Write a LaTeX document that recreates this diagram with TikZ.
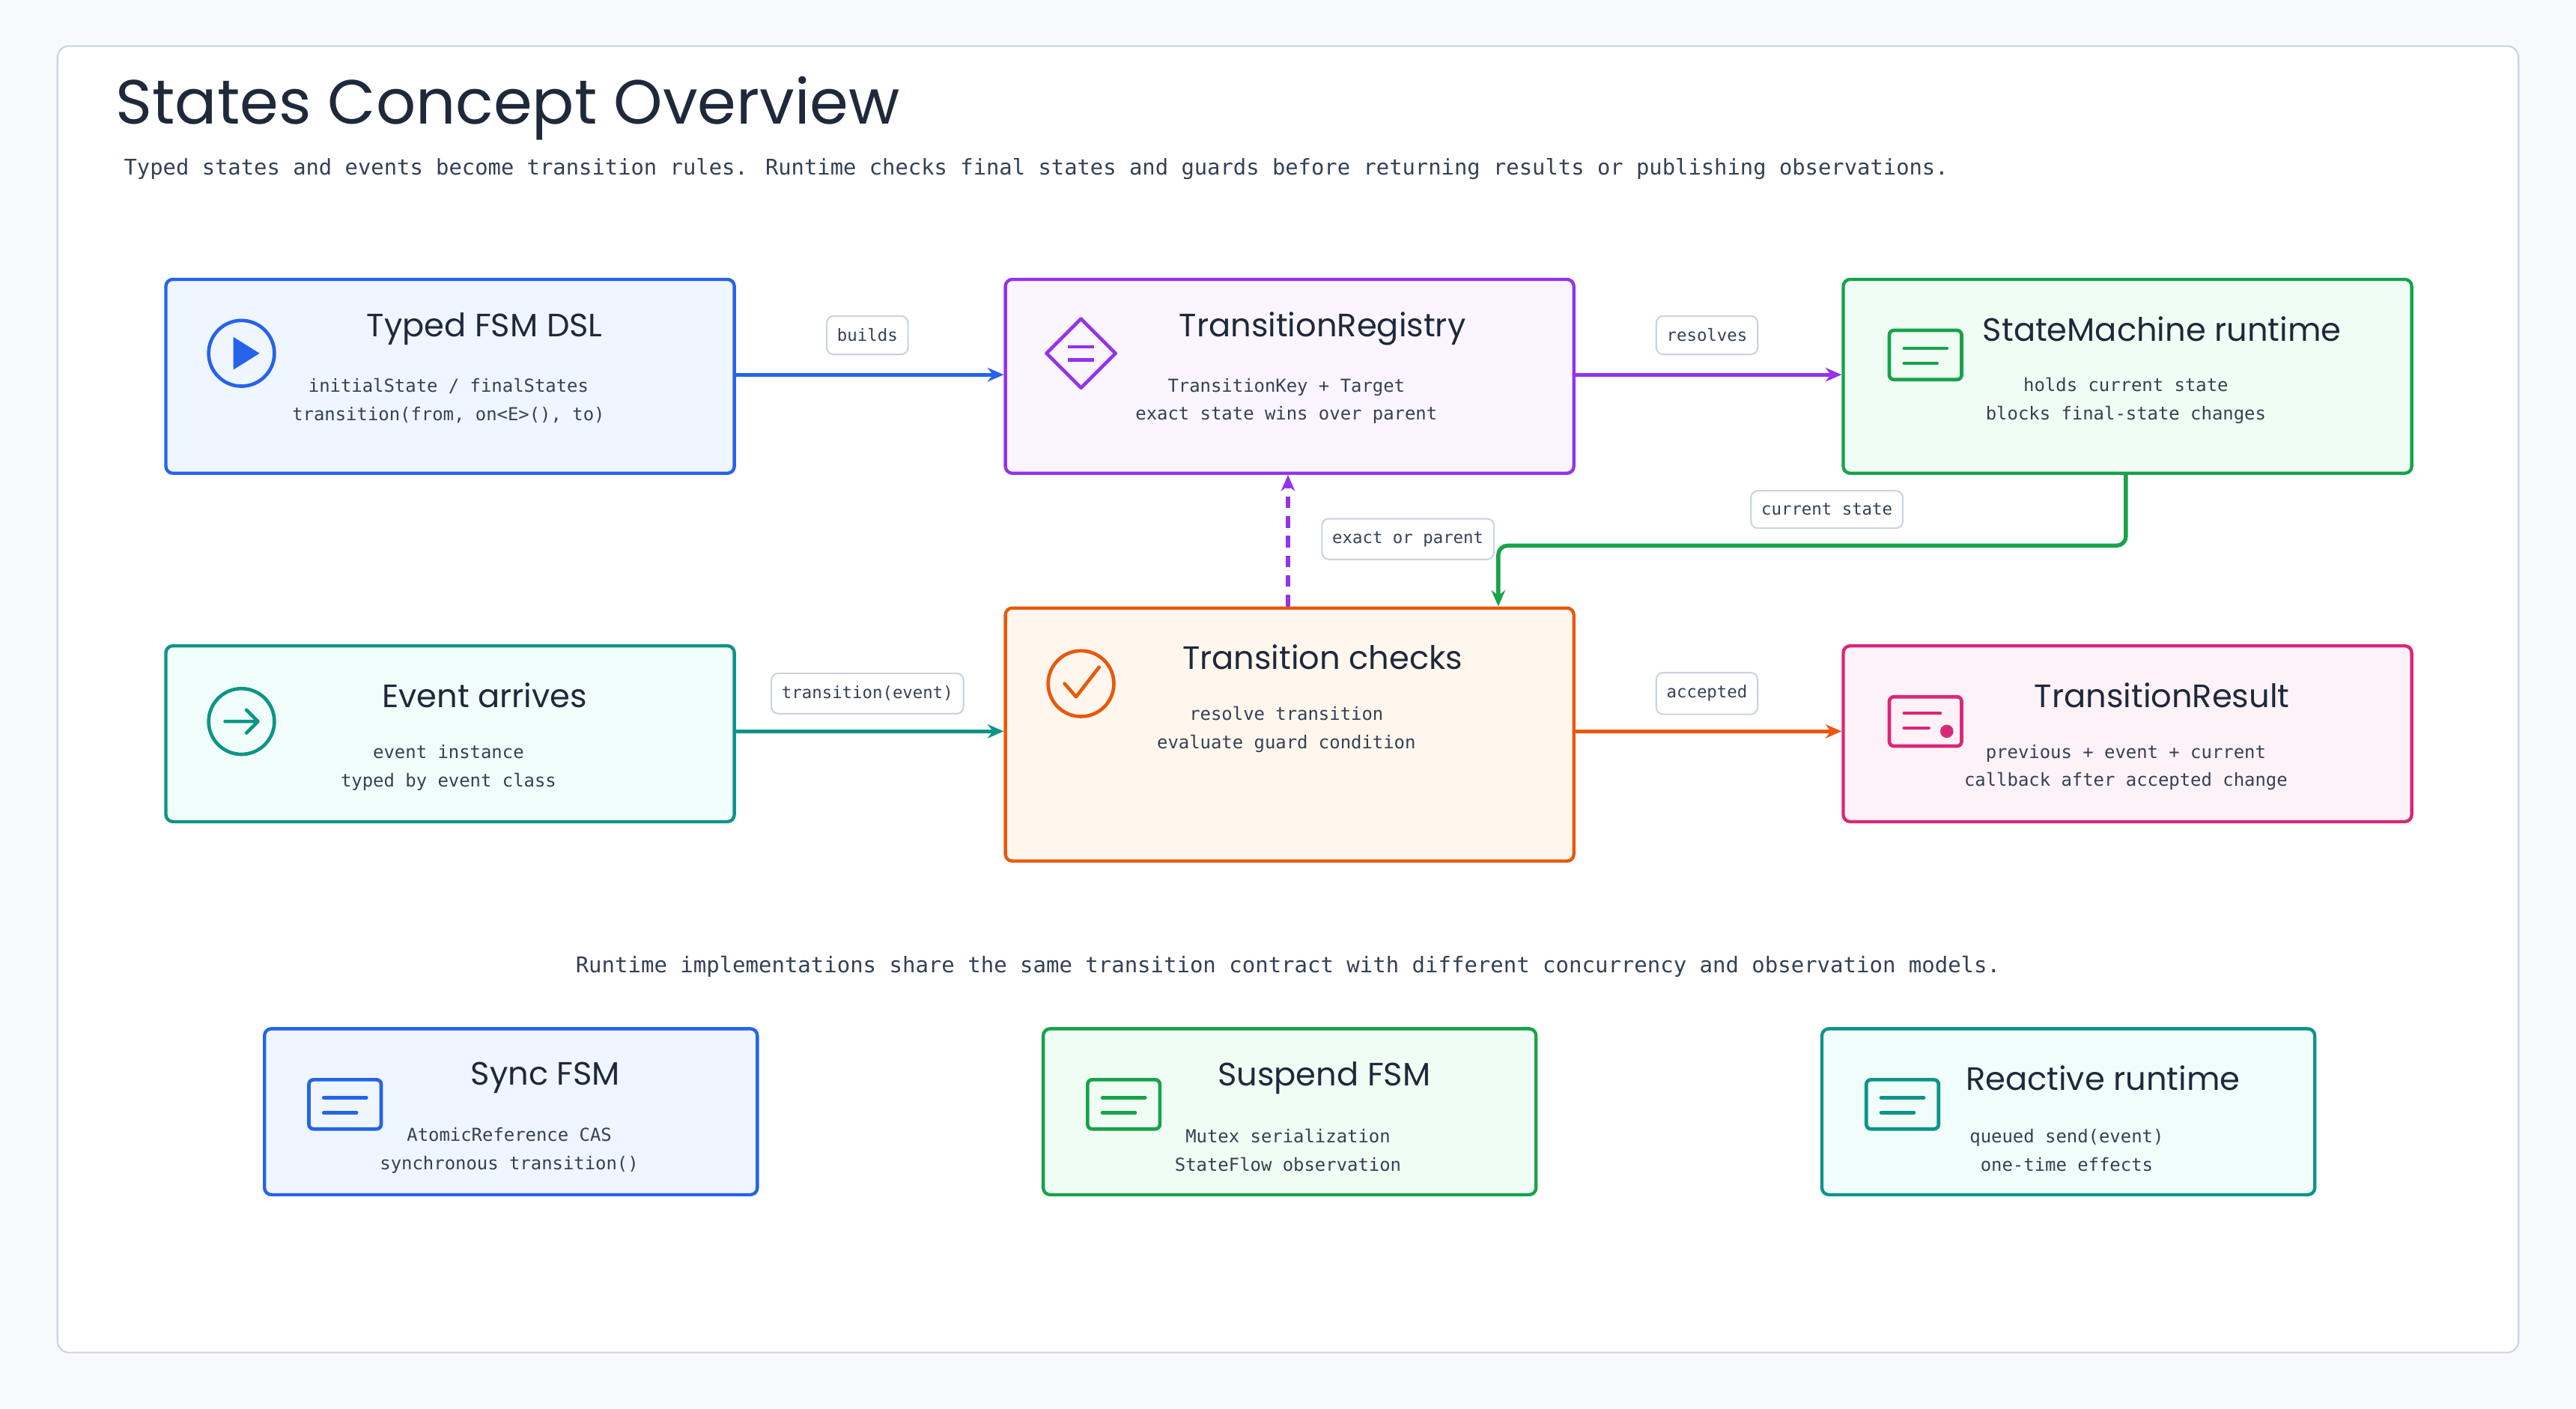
\documentclass[tikz,border=0pt]{standalone}
\usepackage{fontspec}
\setmainfont{Poppins}
\newfontfamily\monof{DejaVu Sans Mono}
\usetikzlibrary{arrows.meta,positioning}
\definecolor{cblue}{HTML}{2563EB}\definecolor{fblue}{HTML}{EFF6FF}
\definecolor{cpur}{HTML}{9333EA}\definecolor{fpur}{HTML}{FAF5FF}
\definecolor{cgrn}{HTML}{16A34A}\definecolor{fgrn}{HTML}{F0FDF4}
\definecolor{cteal}{HTML}{0D9488}\definecolor{fteal}{HTML}{F0FDFA}
\definecolor{corg}{HTML}{EA580C}\definecolor{forg}{HTML}{FFF7ED}
\definecolor{cpink}{HTML}{DB2777}\definecolor{fpink}{HTML}{FDF2F8}
\definecolor{tdark}{HTML}{1E293B}\definecolor{tmid}{HTML}{334155}
\definecolor{gbord}{HTML}{CBD5E1}\definecolor{bgc}{HTML}{F8F9FB}
\tikzset{
 box/.style={draw=#1,line width=2.8pt,rounded corners=6pt,anchor=north west,inner sep=0pt},
 ttl/.style={text=tdark,font=\fontsize{28}{32}\selectfont},
 ln/.style={text=tmid,font=\monof\fontsize{15.5}{24.5}\selectfont},
 lbl/.style={draw=gbord,fill=white,line width=1.4pt,rounded corners=6pt,text=tmid,font=\monof\fontsize{14.5}{18}\selectfont,inner xsep=9pt,inner ysep=11pt},
 edge/.style={line width=3.5pt,-{Stealth[length=14pt,width=12pt]}},
 ic/.style={line width=3pt}
}
\begin{document}
\begin{tikzpicture}[x=0.05cm,y=-0.05cm]
\fill[bgc] (0,0) rectangle (1568,857);
\useasboundingbox (0,0) rectangle (1568,857);
\draw[gbord,fill=white,line width=1.4pt,rounded corners=10pt] (35,28) rectangle (1533,823);
\node[anchor=west,text=tdark,font=\fontsize{54}{60}\selectfont] (title) at (68,66) {States Concept Overview};
\node[anchor=west,ln,font=\monof\fontsize{18.7}{22}\selectfont] (sub) at (73,103) {Typed states and events become transition rules. Runtime checks final states and guards before returning results or publishing observations.};
% boxes
\node[box=cblue,fill=fblue,minimum width=346*0.05cm,minimum height=118*0.05cm] (b1) at (100,169) {};
\node[box=cpur,fill=fpur,minimum width=346*0.05cm,minimum height=118*0.05cm] (b2) at (611,169) {};
\node[box=cgrn,fill=fgrn,minimum width=346*0.05cm,minimum height=118*0.05cm] (b3) at (1121,169) {};
\node[box=cteal,fill=fteal,minimum width=346*0.05cm,minimum height=107*0.05cm] (b4) at (100,392) {};
\node[box=corg,fill=forg,minimum width=346*0.05cm,minimum height=154*0.05cm] (b5) at (611,369) {};
\node[box=cpink,fill=fpink,minimum width=346*0.05cm,minimum height=107*0.05cm] (b6) at (1121,392) {};
\node[box=cblue,fill=fblue,minimum width=300*0.05cm,minimum height=101*0.05cm] (s1) at (160,625) {};
\node[box=cgrn,fill=fgrn,minimum width=300*0.05cm,minimum height=101*0.05cm] (s2) at (634,625) {};
\node[box=cteal,fill=fteal,minimum width=300*0.05cm,minimum height=101*0.05cm] (s3) at (1108,625) {};
% texts
\node[ttl] (t1) at (295,200) {Typed FSM DSL};
\node[ln,align=center] (l1) at (273,244) {initialState / finalStates\\transition(from, on<E>(), to)};
\node[ttl] (t2) at (805,200) {TransitionRegistry};
\node[ln,align=center] (l2) at (783,244) {TransitionKey + Target\\exact state wins over parent};
\node[ttl] (t3) at (1316,200) {StateMachine runtime};
\node[ln,align=center] (l3) at (1294,244) {holds current state\\blocks final-state changes};
\node[ttl] (t4) at (295,423) {Event arrives};
\node[ln,align=center] (l4) at (273,467) {event instance\\typed by event class};
\node[ttl] (t5) at (805,400) {Transition checks};
\node[ln,align=center] (l5) at (783,444) {resolve transition\\evaluate guard condition};
\node[ttl] (t6) at (1316,423) {TransitionResult};
\node[ln,align=center] (l6) at (1294,467) {previous + event + current\\callback after accepted change};
\node[ln,font=\monof\fontsize{18.8}{22}\selectfont] (cap) at (784,588) {Runtime implementations share the same transition contract with different concurrency and observation models.};
\node[ttl] (t7) at (332,656) {Sync FSM};
\node[ln,align=center] (l7) at (310,700) {AtomicReference CAS\\synchronous transition()};
\node[ttl] (t8) at (806,656) {Suspend FSM};
\node[ln,align=center] (l8) at (784,700) {Mutex serialization\\StateFlow observation};
\node[ttl] (t9) at (1280,656) {Reactive runtime};
\node[ln,align=center] (l9) at (1258,700) {queued send(event)\\one-time effects};
% icons
\draw[cblue,ic] (147,215) circle (20);
\fill[cblue] (142,205) -- (158,215) -- (142,225) -- cycle;
\draw[cpur,ic,line join=round] (658,194) -- (679,215) -- (658,236) -- (637,215) -- cycle;
\draw[cpur,ic] (650,211) -- (666,211) (650,219) -- (666,219);
\foreach \cx/\cy/\cc in {1172/216/cgrn,210/672/cblue,684/672/cgrn,1158/672/cteal}{
 \draw[\cc,ic,rounded corners=4pt] (\cx-22,\cy-15) rectangle (\cx+22,\cy+15);
 \draw[\cc,ic,line cap=round] (\cx-13,\cy-4) -- (\cx+13,\cy-4) (\cx-13,\cy+5) -- (\cx+7,\cy+5);
}
\draw[cteal,ic] (147,439) circle (20);
\draw[cteal,ic,line cap=round,line join=round] (137,439) -- (157,439) (150,432) -- (157,439) -- (150,446);
\draw[corg,ic] (658,416) circle (20);
\draw[corg,ic,line cap=round,line join=round] (648,416) -- (655,424) -- (669,406);
\draw[cpink,ic,rounded corners=4pt] (1150,424) rectangle (1194,454);
\draw[cpink,ic,line cap=round] (1159,434) -- (1181,434) (1159,443) -- (1174,443);
\fill[cpink] (1185,445) circle (4);
% edges
\draw[edge,cblue] (b1.east |- 0,228) -- (b2.west |- 0,228);
\draw[edge,cpur] (b2.east |- 0,228) -- (b3.west |- 0,228);
\draw[edge,cteal] (b4.east |- 0,445) -- (b5.west |- 0,445);
\draw[edge,corg] (b5.east |- 0,445) -- (b6.west |- 0,445);
\draw[edge,cgrn,rounded corners=8pt] (b3.south -| 1294,0) -- (1294,332) -- (912,332) -- (b5.north -| 912,0);
\draw[edge,cpur,dash pattern=on 10pt off 7pt] (b5.north -| 784,0) -- (b2.south -| 784,0);
\node[lbl] (e1) at (528,204) {builds};
\node[lbl] (e2) at (1039,204) {resolves};
\node[lbl] (e3) at (1112,310) {current state};
\node[lbl] (e4) at (857,328) {exact or parent};
\node[lbl] (e5) at (528,422) {transition(event)};
\node[lbl] (e6) at (1039,422) {accepted};
\end{tikzpicture}
\end{document}
